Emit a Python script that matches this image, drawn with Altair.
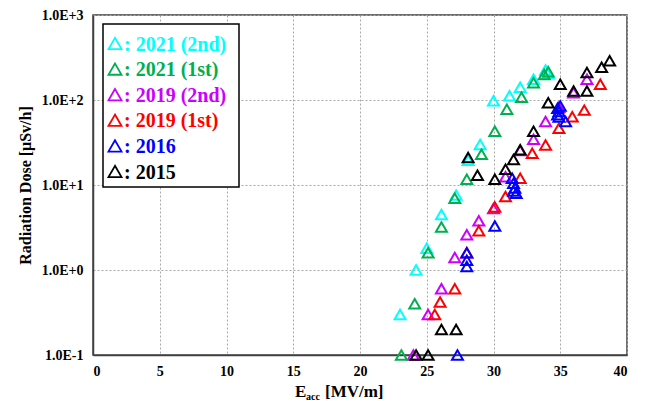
import altair as alt
import pandas as pd

series_names = ["2021 (2nd)", "2021 (1st)", "2019 (2nd)", "2019 (1st)", "2016", "2015"]
series_colors = ["#00FFFF", "#00B050", "#CC00FF", "#FF0000", "#0000FF", "#000000"]

e_2021_2nd = [23.0, 24.2, 25.0, 26.1, 27.2, 28.1, 29.0, 30.0, 31.2, 32.0, 33.0, 33.9, 34.1]
d_2021_2nd = [0.3, 1.0, 1.8, 4.5, 7.6, 19.5, 30, 98, 112, 141, 175, 225, 205]

e_2021_1st = [23.1, 24.1, 25.1, 26.1, 27.1, 28.0, 29.1, 30.1, 31.0, 32.1, 33.0, 33.8, 34.1]
d_2021_1st = [0.1, 0.4, 1.6, 3.2, 7.0, 11.7, 23, 43, 78, 108, 160, 200, 215]

e_2019_2nd = [24.0, 25.1, 26.1, 27.1, 28.0, 28.9, 30.0, 30.9, 32.0, 33.0, 33.9, 34.9, 36.0, 37.0]
d_2019_2nd = [0.1, 0.3, 0.6, 1.4, 2.6, 3.8, 5.3, 12.5, 25.5, 34.5, 56, 82, 122, 175]

e_2019_1st = [25.6, 26.0, 27.1, 28.0, 28.9, 30.1, 30.9, 32.0, 32.9, 33.9, 34.9, 35.9, 36.8, 38.0]
d_2019_1st = [0.3, 0.42, 0.6, 1.6, 2.9, 5.5, 7.3, 12, 23.6, 29.5, 46.5, 63.5, 76, 153]

e_2016 = [27.3, 28.0, 28.0, 28.0, 30.1, 31.4, 31.5, 31.6, 31.5, 31.7, 34.8, 34.9, 34.8, 34.9, 35.0, 35.4]
d_2016 = [0.1, 1.1, 1.3, 1.6, 3.3, 12, 10.5, 9.2, 8.5, 8.0, 80, 73, 67, 63, 85, 56]

e_2015 = [24.2, 25.1, 26.1, 27.2, 28.1, 28.8, 30.1, 30.9, 31.5, 32.0, 33.0, 34.1, 35.0, 36.0, 37.0, 37.0, 38.1, 38.7]
d_2015 = [0.1, 0.1, 0.2, 0.2, 21, 13, 11.7, 15.3, 20, 26, 43, 93, 153, 128, 128, 210, 243, 290]

x_ticks = [0, 5, 10, 15, 20, 25, 30, 35, 40]
y_ticks = [0.1, 1, 10, 100, 1000]
y_tick_labels = ["1.0E-1", "1.0E+0", "1.0E+1", "1.0E+2", "1.0E+3"]

series_e = [e_2021_2nd, e_2021_1st, e_2019_2nd, e_2019_1st, e_2016, e_2015]
series_d = [d_2021_2nd, d_2021_1st, d_2019_2nd, d_2019_1st, d_2016, d_2015]

FONT = "Liberation Serif"

rows = []
for name, es, ds in zip(series_names, series_e, series_d):
    for e, d in zip(es, ds):
        rows.append({"E": e, "D": d, "series": name})
df = pd.DataFrame(rows)

label_list = "[" + ",".join("'" + s + "'" for s in y_tick_labels) + "]"
label_expr = label_list + "[round(log(datum.value)/LN10) + 1]"

color_scale = alt.Scale(domain=series_names, range=series_colors)

x_enc = alt.X("E:Q", scale=alt.Scale(domain=[0, 40], nice=False),
              axis=alt.Axis(values=x_ticks, title=None, grid=True, gridDash=[2, 2],
                            gridColor="#a8a8a8", gridWidth=1,
                            labelFont=FONT, labelFontWeight="bold", labelFontSize=14,
                            labelColor="black", labelPadding=9, tickSize=0,
                            domainColor="#404040", domainWidth=1.5))
y_enc = alt.Y("D:Q", scale=alt.Scale(type="log", domain=[0.1, 1000], nice=False),
              axis=alt.Axis(values=y_ticks, labelExpr=label_expr,
                            title="Radiation Dose [μSv/h]", grid=True, gridDash=[2, 2],
                            gridColor="#a8a8a8", gridWidth=1,
                            labelFont=FONT, labelFontWeight="bold", labelFontSize=14,
                            labelColor="black", labelPadding=10, tickSize=0,
                            titleFont=FONT, titleFontWeight="bold", titleFontSize=16,
                            titleColor="black", titlePadding=8,
                            domainColor="#404040", domainWidth=1.5))

draw_order = ["2021 (2nd)", "2019 (2nd)", "2021 (1st)", "2019 (1st)", "2016", "2015"]
layers = []
for name in draw_order:
    layers.append(
        alt.Chart(df[df["series"] == name]).mark_point(
            shape="triangle-up", filled=False, size=120, strokeWidth=2, opacity=1
        ).encode(x=x_enc, y=y_enc,
                 color=alt.Color("series:N", scale=color_scale, legend=None))
    )

# legend box
one = pd.DataFrame({"k": [0]})
layers.append(alt.Chart(one).mark_rect(fill="white", stroke="black", strokeWidth=1.5).encode(
    x=alt.value(10), x2=alt.value(146), y=alt.value(9), y2=alt.value(172)))

for i, (name, col) in enumerate(zip(series_names, series_colors)):
    yy = 28.5 + 25.6 * i
    layers.append(alt.Chart(one).mark_point(
        shape="triangle-up", filled=False, size=170, strokeWidth=1.8, color=col, opacity=1
    ).encode(x=alt.value(22), y=alt.value(yy)))
    layers.append(alt.Chart(one).mark_text(
        align="left", baseline="middle", font=FONT, fontWeight="bold", fontSize=20, color=col
    ).encode(x=alt.value(31), y=alt.value(yy + 1), text=alt.value(": " + name)))

# x-axis title with subscript
layers.append(alt.Chart(one).mark_text(
    align="left", baseline="alphabetic", font=FONT, fontWeight="bold", fontSize=17, color="black"
).encode(x=alt.value(202), y=alt.value(382), text=alt.value("E")))
layers.append(alt.Chart(one).mark_text(
    align="left", baseline="alphabetic", font=FONT, fontWeight="bold", fontSize=10, color="black"
).encode(x=alt.value(213), y=alt.value(385), text=alt.value("acc")))
layers.append(alt.Chart(one).mark_text(
    align="left", baseline="alphabetic", font=FONT, fontWeight="bold", fontSize=17, color="black"
).encode(x=alt.value(232), y=alt.value(382), text=alt.value("[MV/m]")))

chart = alt.layer(*layers).properties(
    width=534, height=340,
    padding={"left": 93, "top": 15, "right": 19, "bottom": 46},
    autosize=alt.AutoSizeParams(type="none"),
    background="white",
).configure_view(stroke="#404040", strokeWidth=1.5)

chart.save("out.html", embed_options={"renderer": "svg", "actions": False})
